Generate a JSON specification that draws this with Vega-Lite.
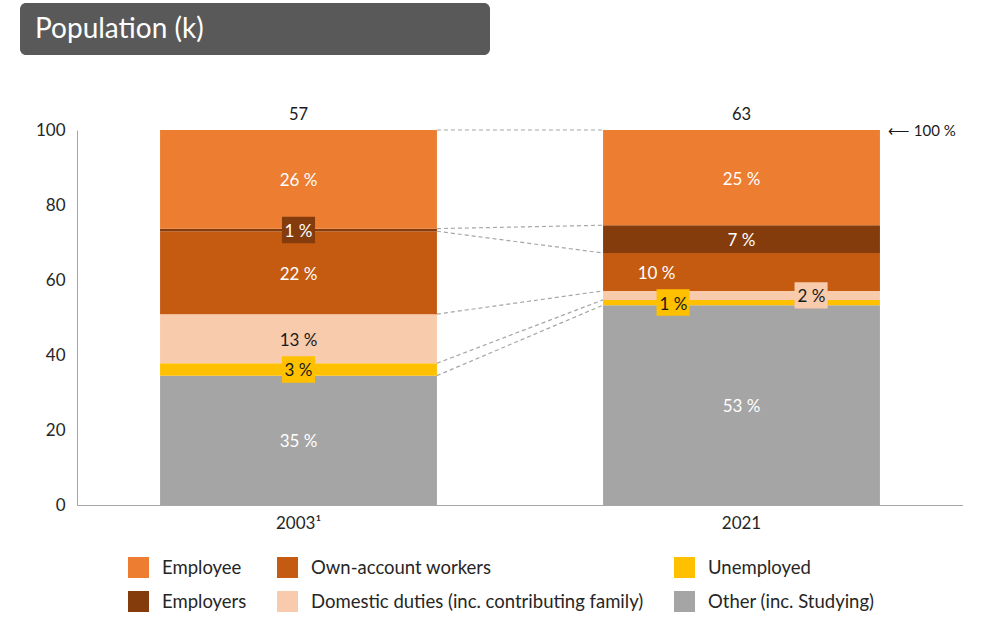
{
  "$schema": "https://vega.github.io/schema/vega-lite/v6.json",
  "padding": {"left": 20, "top": 3, "right": 0, "bottom": 0},
  "autosize": {"type": "pad"},
  "background": "white",
  "spacing": 52,
  "resolve": {"legend": {"color": "independent", "fill": "independent"}, "scale": {"color": "independent"}},
  "config": {
    "view": {"stroke": null},
    "font": "Lato",
    "axis": {"labelFont": "Lato", "labelFontSize": 17, "labelColor": "#262626", "domainColor": "#a6a6a6", "domainWidth": 1, "ticks": false, "grid": false},
    "legend": {"labelFont": "Lato"}
  },
  "datasets": {
    "main": [
      {"year": "2003¹", "cat": "Other (inc. Studying)", "rank": 1, "value": 34.5, "label": "35 %"},
      {"year": "2003¹", "cat": "Unemployed", "rank": 2, "value": 3.3, "label": "3 %"},
      {"year": "2003¹", "cat": "Domestic duties (inc. contributing family)", "rank": 3, "value": 13.1, "label": "13 %"},
      {"year": "2003¹", "cat": "Own-account workers", "rank": 4, "value": 22.1, "label": "22 %"},
      {"year": "2003¹", "cat": "Employers", "rank": 5, "value": 0.7, "label": "1 %"},
      {"year": "2003¹", "cat": "Employee", "rank": 6, "value": 26.3, "label": "26 %"},
      {"year": "2021", "cat": "Other (inc. Studying)", "rank": 1, "value": 53.3, "label": "53 %"},
      {"year": "2021", "cat": "Unemployed", "rank": 2, "value": 1.4, "label": "1 %"},
      {"year": "2021", "cat": "Domestic duties (inc. contributing family)", "rank": 3, "value": 2.4, "label": "2 %"},
      {"year": "2021", "cat": "Own-account workers", "rank": 4, "value": 10.1, "label": "10 %"},
      {"year": "2021", "cat": "Employers", "rank": 5, "value": 7.4, "label": "7 %"},
      {"year": "2021", "cat": "Employee", "rank": 6, "value": 25.4, "label": "25 %"}
    ],
    "links": [
      {"a": 100, "b": 100},
      {"a": 73.7, "b": 74.6},
      {"a": 73.0, "b": 67.2},
      {"a": 50.9, "b": 57.1},
      {"a": 37.8, "b": 54.7},
      {"a": 34.5, "b": 53.3}
    ],
    "totals": [
      {"year": "2003¹", "pop": 57},
      {"year": "2021", "pop": 63}
    ],
    "note": [{"note": "⟵ 100 %"}],
    "titleText": [{"t": "Population (k)"}]
  },
  "vconcat": [
    {
      "width": 470,
      "height": 52,
      "view": {"fill": "#595959", "stroke": null, "cornerRadius": 6},
      "data": {"name": "titleText"},
      "mark": {"type": "text", "align": "left", "baseline": "middle", "dx": -220, "dy": 1, "fontSize": 28, "color": "white", "font": "Lato"},
      "encoding": {"text": {"field": "t", "type": "nominal"}}
    },
    {
      "width": 943,
      "height": 375,
      "layer": [
        {
          "data": {"name": "main"},
          "mark": {"type": "bar"},
          "encoding": {
            "x": {"field": "year", "type": "nominal", "scale": {"domain": ["2003¹", "2021"], "range": [57, 943], "paddingInner": 0.375, "paddingOuter": 0.1875}, "axis": {"title": null, "labelAngle": 0, "labelPadding": 10}},
            "y": {"field": "value", "type": "quantitative", "stack": "zero", "scale": {"domain": [0, 100], "nice": false}, "axis": {"title": null, "values": [0, 20, 40, 60, 80, 100], "labelPadding": 12, "offset": -57}},
            "order": {"field": "rank", "type": "quantitative"},
            "color": {
              "field": "cat", "type": "nominal",
              "scale": {
                "domain": ["Employee", "Own-account workers", "Unemployed", "Employers", "Domestic duties (inc. contributing family)", "Other (inc. Studying)"],
                "range": ["#ED7D31", "#C55A11", "#FFC000", "#843C0C", "#F8CBAD", "#A5A5A5"]
              },
              "legend": {
                "title": null, "orient": "none", "legendX": 108, "legendY": 427, "columns": 3, "direction": "horizontal",
                "symbolType": "square", "symbolSize": 441, "symbolStrokeWidth": 0, "labelFontSize": 18.5, "labelColor": "#262626",
                "labelOffset": 13, "columnPadding": 30, "rowPadding": 13, "padding": 0, "labelLimit": 400
              }
            }
          }
        },
        {
          "data": {"name": "links"},
          "mark": {"type": "rule", "color": "#a6a6a6", "strokeWidth": 1.2, "strokeDash": [4, 3]},
          "encoding": {
            "x": {"datum": "2003¹", "type": "nominal", "bandPosition": 1},
            "x2": {"datum": "2021", "bandPosition": 0},
            "y": {"field": "a", "type": "quantitative"},
            "y2": {"field": "b"}
          }
        },
        {
          "data": {"name": "main"},
          "mark": {"type": "point", "shape": "M-1.25,-1L1.25,-1L1.25,1L-1.25,1Z", "filled": true, "size": 700, "strokeWidth": 0},
          "encoding": {
            "x": {"field": "year", "type": "nominal"},
            "y": {"field": "value", "type": "quantitative", "stack": "zero", "bandPosition": 0.5},
            "order": {"field": "rank", "type": "quantitative"},
            "fill": {"field": "cat", "type": "nominal", "legend": null,
              "scale": {
                "domain": ["Employee", "Own-account workers", "Unemployed", "Employers", "Domestic duties (inc. contributing family)", "Other (inc. Studying)"],
                "range": ["#ED7D31", "#C55A11", "#FFC000", "#843C0C", "#F8CBAD", "#A5A5A5"]
              }},
            "opacity": {"condition": {"test": "datum.year === '2003¹' && (datum.cat === 'Employers' || datum.cat === 'Unemployed')", "value": 1}, "value": 0}
          }
        },
        {
          "data": {"name": "main"},
          "mark": {"type": "point", "shape": "M-1.25,-1L1.25,-1L1.25,1L-1.25,1Z", "filled": true, "size": 700, "strokeWidth": 0},
          "encoding": {
            "x": {"field": "year", "type": "nominal"},
            "xOffset": {"value": 70},
            "y": {"field": "value", "type": "quantitative", "stack": "zero", "bandPosition": 0.5},
            "order": {"field": "rank", "type": "quantitative"},
            "fill": {"field": "cat", "type": "nominal", "legend": null},
            "opacity": {"condition": {"test": "datum.year === '2021' && datum.cat === 'Unemployed'", "value": 1}, "value": 0}
          }
        },
        {
          "data": {"name": "main"},
          "mark": {"type": "point", "shape": "M-1.25,-1L1.25,-1L1.25,1L-1.25,1Z", "filled": true, "size": 700, "strokeWidth": 0},
          "encoding": {
            "x": {"field": "year", "type": "nominal"},
            "xOffset": {"value": 208},
            "y": {"field": "value", "type": "quantitative", "stack": "zero", "bandPosition": 0.5},
            "order": {"field": "rank", "type": "quantitative"},
            "fill": {"field": "cat", "type": "nominal", "legend": null},
            "opacity": {"condition": {"test": "datum.year === '2021' && datum.cat === 'Domestic duties (inc. contributing family)'", "value": 1}, "value": 0}
          }
        },
        {
          "data": {"name": "main"},
          "mark": {"type": "text", "fontSize": 17, "baseline": "middle", "dy": 2},
          "encoding": {
            "x": {"field": "year", "type": "nominal"},
            "y": {"field": "value", "type": "quantitative", "stack": "zero", "bandPosition": 0.5},
            "order": {"field": "rank", "type": "quantitative"},
            "detail": {"field": "cat", "type": "nominal"},
            "text": {"condition": {"test": "!(datum.year === '2021' && (datum.cat === 'Own-account workers' || datum.cat === 'Unemployed' || datum.cat === 'Domestic duties (inc. contributing family)'))", "field": "label"}, "value": ""},
            "color": {"condition": {"test": "datum.cat === 'Unemployed' || datum.cat === 'Domestic duties (inc. contributing family)'", "value": "#1a1a1a"}, "value": "white"}
          }
        },
        {
          "data": {"name": "main"},
          "mark": {"type": "text", "fontSize": 17, "baseline": "middle", "dy": 2, "dx": -85, "color": "white"},
          "encoding": {
            "x": {"field": "year", "type": "nominal"},
            "y": {"field": "value", "type": "quantitative", "stack": "zero", "bandPosition": 0.5},
            "order": {"field": "rank", "type": "quantitative"},
            "detail": {"field": "cat", "type": "nominal"},
            "text": {"condition": {"test": "datum.year === '2021' && datum.cat === 'Own-account workers'", "field": "label"}, "value": ""}
          }
        },
        {
          "data": {"name": "main"},
          "mark": {"type": "text", "fontSize": 17, "baseline": "middle", "dy": 2, "dx": -68, "color": "#1a1a1a"},
          "encoding": {
            "x": {"field": "year", "type": "nominal"},
            "y": {"field": "value", "type": "quantitative", "stack": "zero", "bandPosition": 0.5},
            "order": {"field": "rank", "type": "quantitative"},
            "detail": {"field": "cat", "type": "nominal"},
            "text": {"condition": {"test": "datum.year === '2021' && datum.cat === 'Unemployed'", "field": "label"}, "value": ""}
          }
        },
        {
          "data": {"name": "main"},
          "mark": {"type": "text", "fontSize": 17, "baseline": "middle", "dy": 2, "dx": 70, "color": "#1a1a1a"},
          "encoding": {
            "x": {"field": "year", "type": "nominal"},
            "y": {"field": "value", "type": "quantitative", "stack": "zero", "bandPosition": 0.5},
            "order": {"field": "rank", "type": "quantitative"},
            "detail": {"field": "cat", "type": "nominal"},
            "text": {"condition": {"test": "datum.year === '2021' && datum.cat === 'Domestic duties (inc. contributing family)'", "field": "label"}, "value": ""}
          }
        },
        {
          "data": {"name": "totals"},
          "mark": {"type": "text", "fontSize": 16.5, "baseline": "middle", "dy": -15, "color": "#1a1a1a"},
          "encoding": {
            "x": {"field": "year", "type": "nominal"},
            "y": {"datum": 100, "type": "quantitative"},
            "text": {"field": "pop", "type": "quantitative"}
          }
        },
        {
          "data": {"name": "note"},
          "mark": {"type": "text", "fontSize": 15, "baseline": "middle", "align": "left", "dx": 8, "dy": 1, "color": "#1a1a1a"},
          "encoding": {
            "x": {"datum": "2021", "type": "nominal", "bandPosition": 1},
            "y": {"datum": 100, "type": "quantitative"},
            "text": {"field": "note", "type": "nominal"}
          }
        }
      ]
    }
  ]
}
